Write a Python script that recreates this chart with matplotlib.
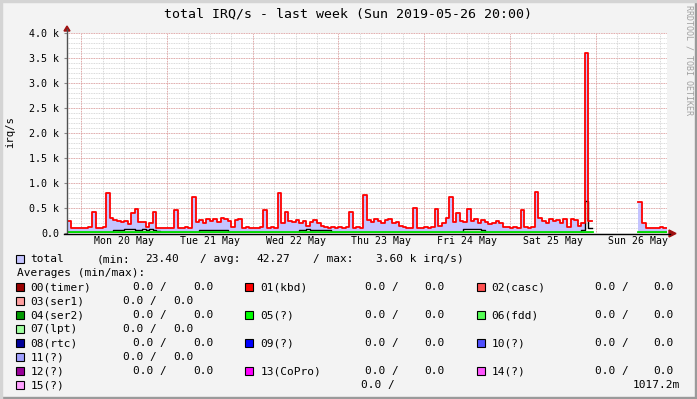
import numpy as np
import matplotlib
matplotlib.use("Agg")
import matplotlib.pyplot as plt
from matplotlib.lines import Line2D
from matplotlib.patches import Rectangle, Polygon

nan = np.nan

# hourly samples, starting Sun 19 May 20:00
red_vals = (
    [250, 110, 110, 100, 110, 110, 120, 430, 110, 110, 120, 800, 300, 260, 250, 220, 250, 180, 400, 480, 220, 230, 120, 200]
    + [420, 110, 110, 110, 110, 110, 460, 110, 110, 120, 110, 730, 220, 260, 200, 280, 250, 290, 220, 300, 280, 250, 120, 260]
    + [280, 110, 120, 110, 110, 110, 120, 460, 110, 120, 110, 800, 200, 430, 250, 220, 260, 200, 250, 150, 230, 260, 200, 150]
    + [120, 110, 120, 110, 120, 110, 120, 420, 110, 120, 110, 760, 260, 220, 280, 250, 200, 260, 280, 200, 220, 150, 120, 110]
    + [110, 500, 110, 110, 120, 110, 120, 480, 150, 200, 300, 720, 220, 400, 250, 220, 480, 250, 280, 200, 260, 220, 180, 200]
    + [250, 200, 120, 120, 110, 120, 110, 460, 120, 110, 120, 830, 300, 250, 200, 280, 250, 260, 200, 280, 120, 280, 260, 150]
    + [200, 3600, 250] + [nan] * 13 + [630, 200, 110, 100, 110, 100, 120, 100]
)
black_vals = (
    [30] * 13 + [60, 70, 60, 80, 90, 90, 70, 60, 80, 70, 90]
    + [60, 50, 30, 30, 30, 30, 30, 30, 30, 30, 30, 30, 30, 60, 70, 60, 70, 60, 70, 60, 60, 30, 30, 30]
    + [30] * 17 + [60, 70, 80, 60, 70, 70, 60]
    + [60, 60] + [30] * 22
    + [30] * 15 + [80, 90, 90, 80, 80, 70] + [30] * 3
    + [30] * 24
    + [60, 650, 100] + [nan] * 13 + [30] * 8
)
green_vals = [20] * 147 + [nan] * 13 + [20] * 8

day_labels = ['Mon 20 May', 'Tue 21 May', 'Wed 22 May', 'Thu 23 May',
              'Fri 24 May', 'Sat 25 May', 'Sun 26 May']
ytick_vals = [0, 500, 1000, 1500, 2000, 2500, 3000, 3500, 4000]
ytick_labels = ['0.0', '0.5 k', '1.0 k', '1.5 k', '2.0 k', '2.5 k', '3.0 k', '3.5 k', '4.0 k']

irq_names = ['00(timer)', '01(kbd)', '02(casc)', '03(ser1)', '04(ser2)', '05(?)', '06(fdd)', '07(lpt)',
             '08(rtc)', '09(?)', '10(?)', '11(?)', '12(?)', '13(CoPro)', '14(?)', '15(?)']
irq_colors = ['#990000', '#ff0000', '#ff5050', '#ffa0a0', '#009900', '#00ff00', '#55ff55', '#a0ffa0',
              '#000099', '#0000ff', '#5050ff', '#a0a0ff', '#990099', '#ff00ff', '#ff55ff', '#ffa0ff']
irq_min = ['0.0'] * 16
irq_max = ['0.0'] * 15 + ['1017.2m']
total_stats = ['23.40', '42.27', '3.60 k']

W, H = 697, 399
MONO = 'DejaVu Sans Mono'
plt.rcParams['font.family'] = MONO

fig = plt.figure(figsize=(W / 100, H / 100), dpi=100, facecolor='#f3f3f3')


def px(x, y):
    return x / W, 1 - y / H


ax = fig.add_axes([67 / W, 1 - 233 / H, 600 / W, 200 / H])
ax.set_facecolor('white')

n = len(red_vals)
edges = np.arange(n + 1)
red = np.array(red_vals + [red_vals[-1]], dtype=float)
black = np.array(black_vals + [black_vals[-1]], dtype=float)
green = np.array(green_vals + [green_vals[-1]], dtype=float)

ax.fill_between(edges, black, red, step='post', color='#c4c4ff', lw=0,
                where=np.isfinite(red), zorder=2)
ax.step(edges, red, where='post', color='#ff0000', lw=1.3, zorder=4)
ax.step(edges, black, where='post', color='black', lw=1.0, zorder=3)
ax.step(edges, green, where='post', color='#00dd00', lw=2.0, zorder=3.5)

ax.set_xlim(0, 168)
ax.set_ylim(0, 4000)

# grid
midnights = np.arange(4, 168, 24)
six_hours = np.arange(4, 168, 6)
for h in six_hours:
    ax.axvline(h, color='#cccccc', lw=0.6, ls=(0, (1, 1)), zorder=1)
for h in midnights:
    ax.axvline(h, color='#e89a9a', lw=0.6, ls=(0, (1, 1)), zorder=1.2)
for v in range(100, 4001, 100):
    ax.axhline(v, color='#cccccc', lw=0.6, ls=(0, (1, 1)), zorder=1)
for v in ytick_vals[1:]:
    ax.axhline(v, color='#e89a9a', lw=0.6, ls=(0, (1, 1)), zorder=1.2)

ax.set_yticks(ytick_vals)
ax.set_yticklabels(ytick_labels, fontsize=7.2)
ax.set_xticks(midnights + 12)
ax.set_xticklabels(day_labels, fontsize=7.1)
ax.tick_params(axis='y', length=2, pad=3.5, color='#888888')
ax.tick_params(axis='x', length=0, pad=2.5)
for s in ax.spines.values():
    s.set_visible(False)

# axes lines with arrows
fig.add_artist(Line2D([67 / W, 67 / W], [1 - 233 / H, 1 - 29 / H], color='#505050', lw=1))
fig.add_artist(Line2D([64 / W, 670 / W], [1 - 233.5 / H, 1 - 233.5 / H], color='black', lw=1))
fig.add_artist(Polygon([px(64, 31), px(70, 31), px(67, 26)], closed=True, color='#a01010'))
fig.add_artist(Polygon([px(669, 230), px(669, 237), px(676, 233.5)], closed=True, color='#a01010'))

# frame bevel
fig.add_artist(Rectangle((0, 0), 1, 2 / H, transform=fig.transFigure, color='#9a9a9a'))
fig.add_artist(Rectangle((1 - 2 / W, 0), 2 / W, 1, transform=fig.transFigure, color='#9a9a9a'))
fig.add_artist(Rectangle((0, 1 - 2 / H), 1, 2 / H, transform=fig.transFigure, color='#d4d4d4'))
fig.add_artist(Rectangle((0, 0), 2 / W, 1, transform=fig.transFigure, color='#d4d4d4'))

# titles
fig.text(*px(347.5, 14), 'total IRQ/s - last week (Sun 2019-05-26 20:00)',
         ha='center', va='center', fontsize=9.5)
fig.text(*px(10, 132), 'irq/s', rotation=90, ha='center', va='center', fontsize=7.6)
fig.text(*px(689, 60), 'RRDTOOL / TOBI OETIKER', rotation=270, ha='center', va='center',
         fontsize=6, color='#a0a0a0')

LEG = 8.0


def swatch(x, y, color):
    fig.add_artist(Rectangle(px(x, y + 4), 8 / W, 8 / H, transform=fig.transFigure,
                             facecolor=color, edgecolor='black', lw=0.8))


def txt(x, y, s):
    fig.text(*px(x, y), s, ha='left', va='center', fontsize=LEG)


# total row
swatch(16, 259, '#c4c4ff')
txt(30.7, 259, 'total')
txt(96.7, 259, '(min:')
txt(145, 259, total_stats[0])
txt(200, 259, '/ avg:')
txt(256.7, 259, total_stats[1])
txt(313.3, 259, '/ max:')
txt(376, 259, total_stats[2] + ' irq/s)')
txt(17, 273, 'Averages (min/max):')

sw_x = [16, 245, 477]
name_x = [30.7, 260.7, 491.7]
val_x = [(133, 193), (365, 424), (595, 653)]
full_rows = [[0, 1, 2], [4, 5, 6], [8, 9, 10], [12, 13, 14]]
short_items = [3, 7, 11]

for r, items in enumerate(full_rows):
    y = 287 + 28 * r
    for c, i in enumerate(items):
        swatch(sw_x[c], y, irq_colors[i])
        txt(name_x[c], y, irq_names[i])
        txt(val_x[c][0], y, irq_min[i] + ' /')
        txt(val_x[c][1], y, irq_max[i])

for r, i in enumerate(short_items):
    y = 301 + 28 * r
    swatch(sw_x[0], y, irq_colors[i])
    txt(name_x[0], y, irq_names[i])
    txt(123, y, irq_min[i] + ' /')
    txt(173, y, irq_max[i])

swatch(sw_x[0], 385, irq_colors[15])
txt(name_x[0], 385, irq_names[15])
txt(360.7, 385, irq_min[15] + ' /')
txt(632.7, 385, irq_max[15])

fig.savefig('out.png', dpi=100, facecolor=fig.get_facecolor())
